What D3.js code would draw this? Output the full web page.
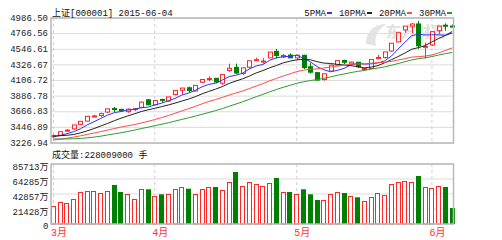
<!DOCTYPE html>
<html><head><meta charset="utf-8">
<script src="https://cdn.jsdelivr.net/npm/d3@7/dist/d3.min.js"></script>
<style>
html,body{margin:0;padding:0;background:#fff;}
svg{display:block;}
text{font-family:"Liberation Mono","DejaVu Sans Mono","Noto Sans CJK SC",monospace;}
</style></head><body>
<svg id="c" width="502" height="240"></svg>
<script>
const dates = [
"2015-03-11","2015-03-12","2015-03-13","2015-03-16","2015-03-17","2015-03-18","2015-03-19","2015-03-20","2015-03-23","2015-03-24",
"2015-03-25","2015-03-26","2015-03-27","2015-03-30","2015-03-31","2015-04-01","2015-04-02","2015-04-03","2015-04-07","2015-04-08",
"2015-04-09","2015-04-10","2015-04-13","2015-04-14","2015-04-15","2015-04-16","2015-04-17","2015-04-20","2015-04-21","2015-04-22",
"2015-04-23","2015-04-24","2015-04-27","2015-04-28","2015-04-29","2015-04-30","2015-05-04","2015-05-05","2015-05-06","2015-05-07",
"2015-05-08","2015-05-11","2015-05-12","2015-05-13","2015-05-14","2015-05-15","2015-05-18","2015-05-19","2015-05-20","2015-05-21",
"2015-05-22","2015-05-25","2015-05-26","2015-05-27","2015-05-28","2015-05-29","2015-06-01","2015-06-02","2015-06-03","2015-06-04"];
const opens = [3283,3295,3365,3391,3458,3506,3576,3589,3640,3692,
3680,3646,3679,3710,3822,3748,3827,3803,3899,3963,
4000,3951,4081,4126,4139,4067,4254,4301,4212,4304,
4411,4385,4441,4537,4456,4483,4441,4479,4311,4223,
4121,4247,4337,4403,4352,4377,4276,4285,4430,4446,
4543,4677,4855,4911,4943,4603,4633,4844,4924,4912];
const highs = [3311,3355,3384,3450,3503,3578,3600,3632,3688,3715,
3688,3693,3698,3795,3835,3817,3835,3864,3961,4000,
4016,4035,4128,4168,4139,4195,4356,4356,4294,4399,
4444,4436,4529,4572,4499,4507,4488,4488,4367,4233,
4206,4342,4401,4414,4389,4377,4298,4418,4486,4530,
4658,4814,4911,4958,4986.5,4668,4830,4911,4951,4935];
const lows = [3260,3290,3348,3377,3446,3500,3567,3569,3624,3641,
3643,3630,3656,3710,3742,3742,3784,3792,3888,3901,
3923,3946,4066,4097,4065,4041,4235,4199,4190,4282,
4393,4358,4441,4432,4441,4441,4410,4277,4209,4109,
4105,4248,4317,4350,4339,4292,4250,4285,4419,4431,
4534,4675,4812,4804,4574,4431,4615,4797,4842,4888];
const closes = [3290.90,3349.32,3372.91,3449.30,3502.85,3577.30,3582.27,3617.32,3687.73,3691.41,
3660.73,3682.09,3691.10,3786.57,3747.90,3810.29,3825.78,3863.93,3961.38,3994.81,
3957.53,4034.31,4121.71,4135.56,4084.16,4194.82,4287.30,4217.08,4293.62,4398.49,
4414.51,4393.69,4527.40,4476.62,4476.21,4441.65,4480.46,4298.71,4229.27,4112.21,
4205.92,4333.58,4401.22,4375.76,4378.31,4308.69,4283.49,4417.55,4446.29,4529.42,
4657.60,4813.80,4910.90,4941.71,4620.27,4611.74,4828.74,4910.53,4909.98,4902];
// closes of the 29 sessions before the first shown day (needed for the moving averages)
const priorCloses = [3343.34,3351.76,3383.18,3352.96,3305.74,3262.30,3210.36,3128.30,3204.91,3174.13,
3136.53,3075.91,3095.12,3141.59,3157.70,3173.42,3203.83,3222.44,3246.91,3228.84,
3298.36,3310.30,3336.28,3263.05,3279.53,3248.48,3241.19,3302.41,3286.07];
// volume in 万手
const volumes = [25714,31857,29571,35285,45285,46714,46714,43857,46714,55714,
45714,43285,35714,49571,49571,40000,42428,42428,49571,52857,
50428,42428,50428,52857,52857,48142,60000,74285,54285,59571,
57571,54285,58142,65714,45714,45714,43285,49571,42428,34285,
34285,42857,45714,44285,40000,38142,32857,38142,44285,41428,
56714,59571,61000,59571,68571,52857,51428,54285,52857,22800.9];
const priceTicks = [4986.50,4766.56,4546.61,4326.67,4106.72,3886.78,3666.83,3446.89,3226.94];
const volTicks = [85713,64285,42857,21428,0];
const maPeriods = [5,10,20,30];
const maNames = ["5PMA","10PMA","20PMA","30PMA"];
const title = "上证[000001] 2015-06-04";
const volText = "成交量:228009000 手";

const RED = "#ff2626", GREEN = "#008000";
const maColors = ["#3030ff","#222222","#ff4a4a","#2f9a2f"];

const svg = d3.select("#c");
const L = 51, R = 453.5, PT = 18, PB = 143, VT = 164, VB = 224;

const x = d3.scaleBand().domain(dates).range([50, 455.6]).paddingInner(0).paddingOuter(0);
const bw = 5;
const cx = d => x(d) + x.bandwidth()/2;

const yGrid = d3.scaleLinear().domain([3226.94, 4986.5]).range([PB, PT]);
const y = d3.scaleLinear().domain([3226.94, 4986.5]).range([140, 21]);
const yv = d3.scaleLinear().domain([0, 85713]).range([VB, VT]);

// grid
const g = svg.append("g");
priceTicks.forEach(v => {
  g.append("line").attr("x1", L).attr("x2", R).attr("y1", yGrid(v)).attr("y2", yGrid(v))
    .attr("stroke", "#dcdcdc").attr("stroke-width", 1);
});
volTicks.forEach(v => {
  g.append("line").attr("x1", L).attr("x2", R).attr("y1", yv(v)).attr("y2", yv(v))
    .attr("stroke", "#dcdcdc").attr("stroke-width", 1);
});
// month separators
const monthStarts = dates.filter((d,i) => i === 0 || d.slice(5,7) !== dates[i-1].slice(5,7));
monthStarts.forEach(d => {
  [[PT,PB],[VT,VB]].forEach(([a,b]) => {
    g.append("line").attr("x1", cx(d)).attr("x2", cx(d)).attr("y1", a).attr("y2", b)
      .attr("stroke", "#cfcfcf").attr("stroke-dasharray", "3,3");
  });
  svg.append("text").attr("x", cx(d) - 2.5).attr("y", 236).attr("font-size", 10)
    .attr("fill", "#ff3030").text(+d.slice(5,7) + "月");
});

// watermark
svg.append("text").attr("x", 386).attr("y", 37).attr("font-size", 15).attr("font-weight", "bold")
  .attr("fill", "#e0e0e0").style("font-family", "'Noto Sans CJK SC'").text("东方财富");
svg.append("path").attr("d", "M366,44 C366,30 376,24 386,24 C378,30 374,36 376,46 Z")
  .attr("fill", "#e4e4e4");

// axis labels
priceTicks.forEach(v => {
  svg.append("text").attr("x", 48).attr("y", yGrid(v) - 0.5).attr("dy", "0.35em")
    .attr("text-anchor", "end").attr("font-size", 9).attr("fill", "#222")
    .text(v.toFixed(2));
});
volTicks.forEach(v => {
  svg.append("text").attr("x", 48.5).attr("y", yv(v) + (v === 0 ? 1.8 : 3)).attr("dy", "0.35em")
    .attr("text-anchor", "end").attr("font-size", 9).attr("fill", "#222")
    .text(v === 0 ? "0" : v + "万");
});

// volume bars
const vg = svg.append("g");
dates.forEach((d,i) => {
  const up = closes[i] >= opens[i];
  const top = yv(volumes[i]);
  if (up) {
    vg.append("rect").attr("x", Math.round(cx(d) - bw/2) + 0.5).attr("y", Math.round(top) + 0.5)
      .attr("width", bw - 1).attr("height", VB - Math.round(top) - 0.5)
      .attr("fill", "#fff").attr("stroke", RED).attr("stroke-width", 1);
  } else {
    vg.append("rect").attr("x", Math.round(cx(d) - bw/2)).attr("y", top)
      .attr("width", bw).attr("height", VB - top).attr("fill", GREEN);
  }
});

// candles
const cg = svg.append("g");
dates.forEach((d,i) => {
  const o = opens[i], c = closes[i], h = highs[i], l = lows[i];
  const up = c >= o;
  const col = up ? RED : GREEN;
  const X = Math.round(cx(d)) + 0.5;
  cg.append("line").attr("x1", X).attr("x2", X).attr("y1", y(h)).attr("y2", y(l))
    .attr("stroke", col).attr("stroke-width", 1);
  const t = y(Math.max(o,c)), b = y(Math.min(o,c));
  const hgt = Math.max(b - t, 1);
  if (up) {
    cg.append("rect").attr("x", X - 2).attr("y", t).attr("width", 4).attr("height", hgt)
      .attr("fill", "#fff").attr("stroke", col).attr("stroke-width", 1);
  } else {
    cg.append("rect").attr("x", X - 2.5).attr("y", t - 0.5).attr("width", 5).attr("height", hgt + 1)
      .attr("fill", col);
  }
});

// moving averages
const allCloses = priorCloses.concat(closes);
const off = priorCloses.length;
maPeriods.forEach((n, k) => {
  const pts = dates.map((d,i) => {
    const seg = allCloses.slice(off + i - n + 1, off + i + 1);
    return [cx(d), y(d3.mean(seg))];
  });
  svg.append("path").attr("d", d3.line().curve(d3.curveLinear)(pts))
    .attr("fill", "none").attr("stroke", maColors[k]).attr("stroke-width", 1);
});

// borders
[[PT,PB],[VT,VB]].forEach(([a,b]) => {
  svg.append("rect").attr("x", L).attr("y", a).attr("width", R - L).attr("height", b - a)
    .attr("fill", "none").attr("stroke", "#b8b8b8").attr("stroke-width", 1.5);
});

// title & texts
svg.append("text").attr("x", 52).attr("y", 16).attr("font-size", 9).attr("fill", "#111").text(title);
svg.append("text").attr("x", 52).attr("y", 157.5).attr("font-size", 9).attr("fill", "#111").text(volText);

// legend (right aligned to panel)
let lx = 452;
for (let k = maNames.length - 1; k >= 0; k--) {
  lx -= 5;
  svg.append("rect").attr("x", lx).attr("y", 12).attr("width", 5).attr("height", 2).attr("fill", maColors[k]);
  const t = svg.append("text").attr("y", 16).attr("font-size", 9).attr("fill", "#111").text(maNames[k]);
  const w = t.node().getComputedTextLength();
  lx -= w + 1;
  t.attr("x", lx);
  lx -= 7;
}
</script></body></html>
